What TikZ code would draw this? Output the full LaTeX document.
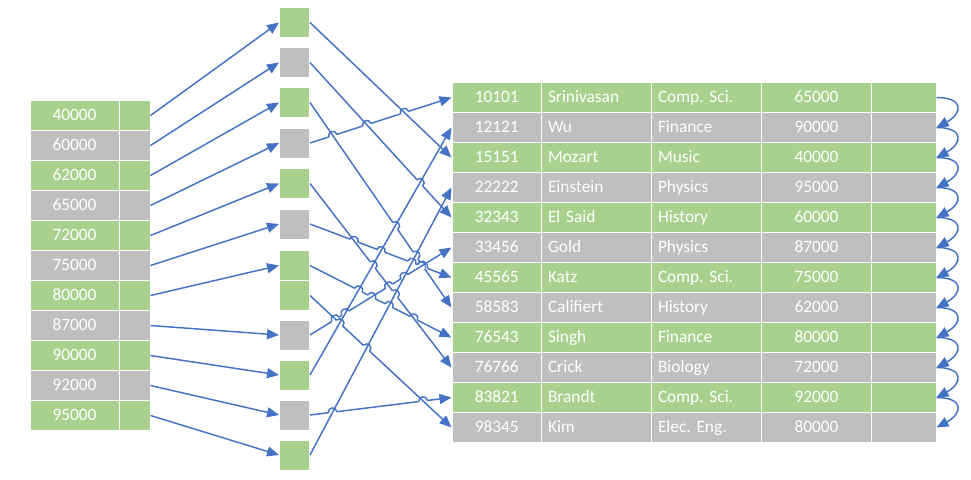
\documentclass[tikz,border=0pt]{standalone}
\usepackage{fontspec}
\setmainfont{Carlito}
\frenchspacing
\usetikzlibrary{arrows.meta,calc,intersections}
\newlength{\unitpx}\setlength{\unitpx}{0.75pt}
\definecolor{idxgreen}{HTML}{A9D18E}
\definecolor{idxgray}{HTML}{BFBFBF}
\definecolor{ptrblue}{HTML}{4472C4}
\tikzset{
  cell/.style={draw=white,line width=1\unitpx,minimum height=30\unitpx,inner sep=0pt,
    text=white,font=\fontsize{13}{15}\selectfont,text height=10.5pt,text depth=2.5pt},
  bucket/.style={cell,minimum width=30\unitpx},
  wire/.style={draw=ptrblue,line width=1.1pt},
  ptr/.style={wire,-{Triangle[length=9pt,width=7.5pt]}}
}

\begin{document}
\begin{tikzpicture}[x=0.75pt,y=-0.75pt]
	\useasboundingbox (0,0) rectangle (971,479);
	%% secondary index on salary, drawn with a loop
	\foreach \v/\c [count=\i] in {40000/idxgreen,60000/idxgray,62000/idxgreen,65000/idxgray,
		72000/idxgreen,75000/idxgray,80000/idxgreen,87000/idxgray,90000/idxgreen,92000/idxgray,95000/idxgreen}{
		\node[cell,fill=\c,minimum width=89\unitpx] (l\i) at (74.5,{115.5+30*(\i-1)}) {\v};
		\node[cell,fill=\c,minimum width=31\unitpx] (lp\i) at (134.5,{115.5+30*(\i-1)}) {};
		}
	%% buckets placed at their own heights
	\foreach \y/\c [count=\j] in {22.5/idxgreen,62.5/idxgray,102.5/idxgreen,143/idxgray,183.5/idxgreen,224/idxgray,
		265.5/idxgreen,295.5/idxgreen,335/idxgray,375/idxgreen,415/idxgray,455/idxgreen}{
		\node[bucket,fill=\c] (b\j) at (294.5,\y) {};
		}
	%% instructor file, one row per loop step
	\foreach \id/\nm/\dept/\sal/\c [count=\k] in {10101/Srinivasan/Comp. Sci./65000/idxgreen,
		12121/Wu/Finance/90000/idxgray, 15151/Mozart/Music/40000/idxgreen,
		22222/Einstein/Physics/95000/idxgray, 32343/El Said/History/60000/idxgreen,
		33456/Gold/Physics/87000/idxgray, 45565/Katz/Comp. Sci./75000/idxgreen,
		58583/Califiert/History/62000/idxgray, 76543/Singh/Finance/80000/idxgreen,
		76766/Crick/Biology/72000/idxgray, 83821/Brandt/Comp. Sci./92000/idxgreen,
		98345/Kim/Elec. Eng./80000/idxgray}{
		\node[cell,fill=\c,minimum width=89.5\unitpx] (r\k) at (496.75,{97.5+30*(\k-1)}) {\id};
		\node[cell,fill=\c,minimum width=110\unitpx,text width=97\unitpx,align=left] (rn\k) at (596.5,{97.5+30*(\k-1)}) {\nm};
		\node[cell,fill=\c,minimum width=110\unitpx,text width=97\unitpx,align=left] (rd\k) at (706.5,{97.5+30*(\k-1)}) {\dept};
		\node[cell,fill=\c,minimum width=110\unitpx] (rs\k) at (816.5,{97.5+30*(\k-1)}) {\sal};
		\node[cell,fill=\c,minimum width=64.5\unitpx] (rp\k) at (903.75,{97.5+30*(\k-1)}) {};
		}
	%% index entries to buckets
	\foreach \i/\j in {1/1,2/2,3/3,4/4,5/5,6/6,7/7,8/9,9/10,10/11,11/12}
		\draw[ptr] (lp\i.east) -- (b\j.west);
	%% buckets to records
	\foreach \j/\k in {1/3,2/5,3/8,4/1,5/10,6/7,7/9,8/12,9/6,10/2,11/11,12/4}{
		\coordinate (s\j) at (b\j.east);
		\coordinate (e\j) at (r\k.west);
		\draw[ptr,name path global=bl\j] (s\j) -- (e\j);
		}
	%% line jumps: the flatter line hops over the steeper one
	\foreach \ov/\un in {4/1,4/2,2/10,4/3,6/3,9/3,3/10,3/12,6/5,7/5,9/5,5/10,5/12,
		6/9,6/10,6/12,7/9,7/10,7/12,9/8,8/10,11/8,8/12,9/10,9/12,11/12}{
		\path[name intersections/.expanded={of=bl\ov\space and bl\un,by=x}];
		\fill[white] (x) circle[radius=3.2pt];
		\draw[wire] ($(x)!3.6pt!(s\un)$) -- ($(x)!3.6pt!(e\un)$);
		\coordinate (ha) at ($(x)!3.2pt!(s\ov)$);
		\coordinate (hb) at ($(x)!3.2pt!(e\ov)$);
		\draw[wire] (ha) .. controls ($(ha)!0.667!90:(hb)$) and ($(hb)!0.667!-90:(ha)$) .. (hb);
		}
	%% file chained in search key order
	\foreach \k [evaluate=\k as \n using int(\k+1)] in {1,...,11}
		\draw[ptr] (rp\k.east) .. controls +(28,0) and +(26,-14) .. (rp\n.east);
\end{tikzpicture}
\end{document}
